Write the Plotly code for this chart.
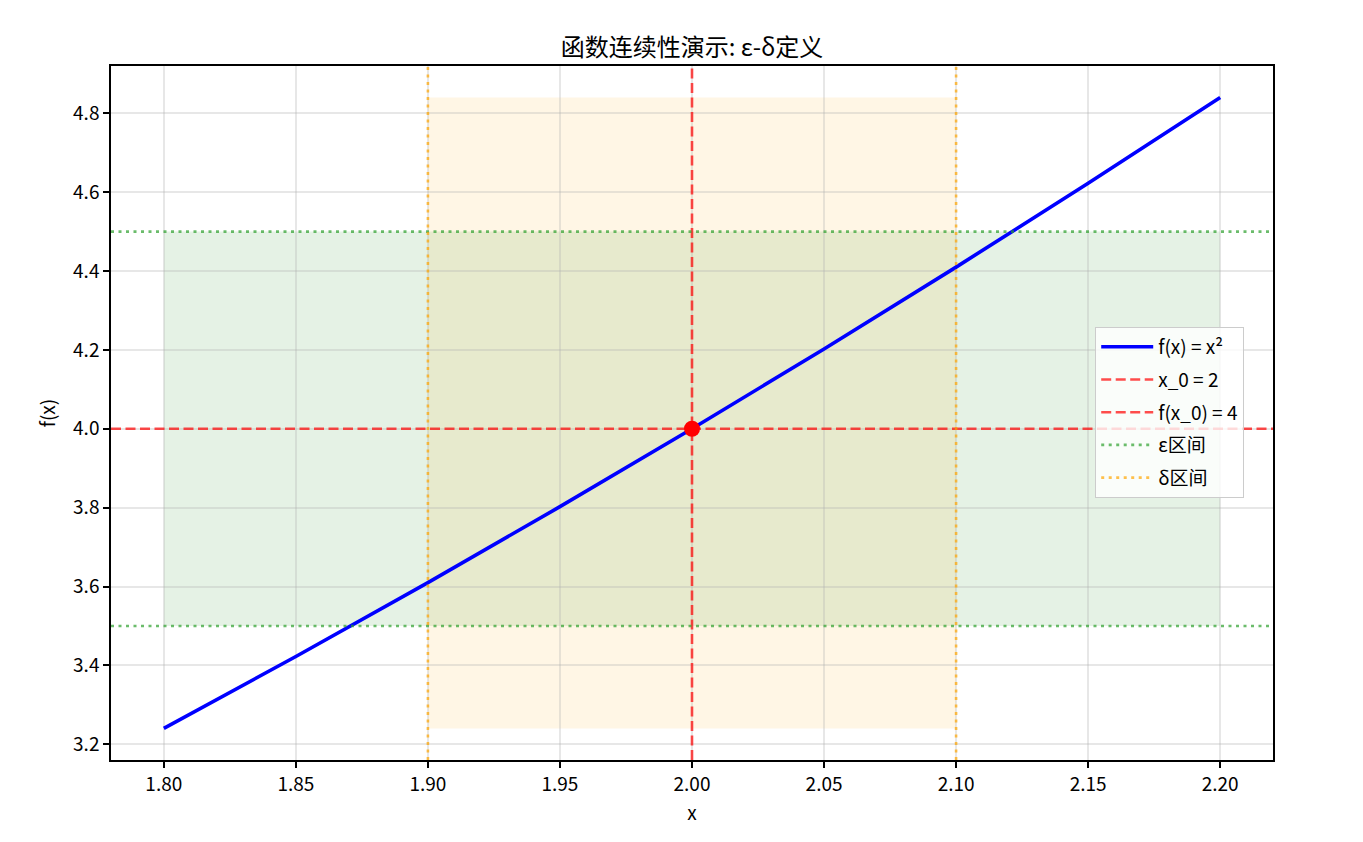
import plotly.graph_objects as go

x_vals = [1.80, 1.85, 1.90, 1.95, 2.00, 2.05, 2.10, 2.15, 2.20]
y_vals = [3.24, 3.4225, 3.61, 3.8025, 4.00, 4.2025, 4.41, 4.6225, 4.84]

x0 = 2.0
fx0 = 4.0
eps_band = [3.5, 4.5]
delta_band = [1.9, 2.1]

x_ticks = [1.80, 1.85, 1.90, 1.95, 2.00, 2.05, 2.10, 2.15, 2.20]
y_ticks = [3.2, 3.4, 3.6, 3.8, 4.0, 4.2, 4.4, 4.6, 4.8]

FONT = "Noto Sans CJK SC, Noto Sans, sans-serif"
RED = "rgba(255,0,0,0.7)"
GREEN = "rgba(44,160,44,0.7)"
ORANGE = "rgba(255,165,0,0.7)"
DASH = "10px,4.5px"
DOT = "3px,4.5px"

fig = go.Figure()

# shaded bands (below the grid, like matplotlib)
fig.add_shape(type="rect", xref="x", yref="y",
              x0=x_vals[0], x1=x_vals[-1], y0=eps_band[0], y1=eps_band[1],
              fillcolor="rgba(0,128,0,0.1)", line=dict(width=0), layer="below")
fig.add_shape(type="rect", xref="x", yref="y",
              x0=delta_band[0], x1=delta_band[1], y0=min(y_vals), y1=max(y_vals),
              fillcolor="rgba(255,165,0,0.1)", line=dict(width=0), layer="below")

# curve
fig.add_trace(go.Scatter(x=x_vals, y=y_vals, mode="lines", legendgroup="a",
                         line=dict(color="blue", width=3.6), name="f(x) = x²"))

# reference lines across the whole axes
fig.add_shape(type="line", xref="x", yref="paper", x0=x0, x1=x0, y0=0, y1=1,
              line=dict(color=RED, width=2.6, dash=DASH))
fig.add_shape(type="line", xref="paper", yref="y", x0=0, x1=1, y0=fx0, y1=fx0,
              line=dict(color=RED, width=2.6, dash=DASH))
for e in eps_band:
    fig.add_shape(type="line", xref="paper", yref="y", x0=0, x1=1, y0=e, y1=e,
                  line=dict(color=GREEN, width=2.6, dash=DOT))
for d in delta_band:
    fig.add_shape(type="line", xref="x", yref="paper", x0=d, x1=d, y0=0, y1=1,
                  line=dict(color=ORANGE, width=2.6, dash=DOT))

# legend-only entries for the lines
fig.add_trace(go.Scatter(x=[None], y=[None], mode="lines", name="x_0 = 2",
                         legendgroup="b", line=dict(color=RED, width=2.6, dash=DASH)))
fig.add_trace(go.Scatter(x=[None], y=[None], mode="lines", name="f(x_0) = 4",
                         legendgroup="c", line=dict(color=RED, width=2.6, dash=DASH)))
fig.add_trace(go.Scatter(x=[None], y=[None], mode="lines", name="ε区间",
                         legendgroup="d", line=dict(color=GREEN, width=2.6, dash=DOT)))
fig.add_trace(go.Scatter(x=[None], y=[None], mode="lines", name="δ区间",
                         legendgroup="e", line=dict(color=ORANGE, width=2.6, dash=DOT)))

# the point (x0, f(x0))
fig.add_trace(go.Scatter(x=[x0], y=[fx0], mode="markers", showlegend=False,
                         marker=dict(color="red", size=16)))

axis_common = dict(
    showline=True, linecolor="black", linewidth=1.5, mirror=True,
    ticks="outside", ticklen=6, tickcolor="black", tickwidth=1.5,
    showgrid=True, gridcolor="rgba(176,176,176,0.3)", gridwidth=1.5,
    zeroline=False, tickfont=dict(size=19, color="black"),
    title_font=dict(size=19, color="black"),
)

fig.update_layout(
    width=1363, height=842,
    margin=dict(l=103, r=98, t=58, b=90),
    paper_bgcolor="white", plot_bgcolor="white",
    font=dict(family=FONT, color="black"),
    title=dict(text="函数连续性演示: ε-δ定义", x=0.5, xanchor="center",
               xref="paper", y=0.953, yanchor="middle", font=dict(size=24)),
    xaxis=dict(range=[1.78, 2.22], tickvals=x_ticks,
               ticktext=[f"{v:.2f}" for v in x_ticks], title_text="x",
               title_standoff=12, **axis_common),
    yaxis=dict(range=[3.16, 4.92], tickvals=y_ticks,
               ticktext=[f"{v:.1f}" for v in y_ticks], title_text="f(x)",
               title_standoff=12, **axis_common),
    legend=dict(x=0.847, y=0.624, xanchor="left", yanchor="top",
                bgcolor="rgba(255,255,255,0.8)", bordercolor="#cccccc",
                borderwidth=1, font=dict(size=19), tracegroupgap=5,
                itemwidth=52),
    showlegend=True,
)

fig.write_html("out.html")
